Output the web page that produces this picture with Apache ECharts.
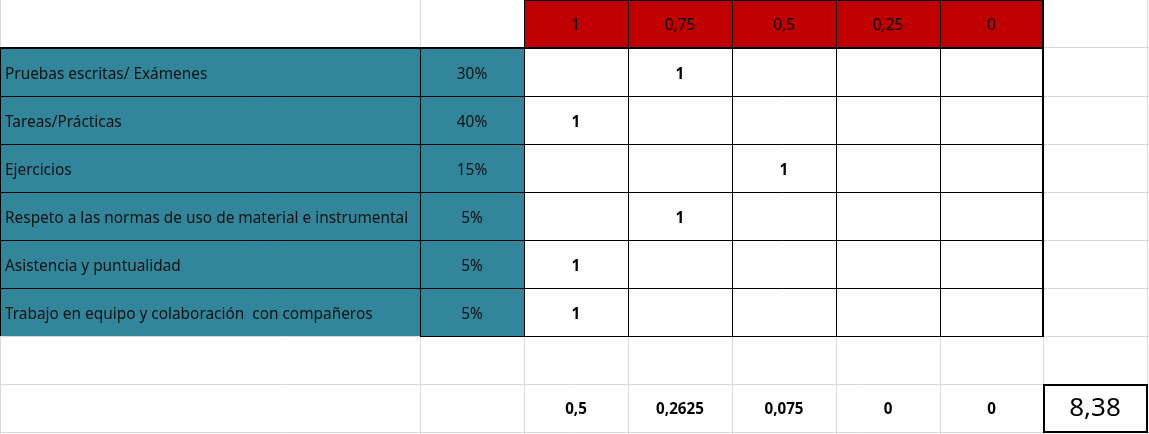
<!DOCTYPE html>
<html>
<head>
<meta charset="utf-8">
<script src="https://cdn.jsdelivr.net/npm/echarts@6/dist/echarts.min.js"></script>
<style>
html,body{margin:0;padding:0;background:#fff;}
#chart{width:1149px;height:434px;}
</style>
</head>
<body>
<div id="chart"></div>
<script>
// ---- data ----
const scoreLevels = ['1', '0,75', '0,5', '0,25', '0'];
const criteria = [
  'Pruebas escritas/ Exámenes',
  'Tareas/Prácticas',
  'Ejercicios',
  'Respeto a las normas de uso de material e instrumental',
  'Asistencia y puntualidad',
  'Trabajo en equipo y colaboración  con compañeros'
];
const weights = ['30%', '40%', '15%', '5%', '5%', '5%'];
const selectedLevel = [1, 0, 2, 1, 0, 0];   // index into scoreLevels marked with "1"
const markValue = '1';
const columnTotals = ['0,5', '0,2625', '0,075', '0', '0'];
const finalGrade = '8,38';

// ---- layout (not data) ----
const colEdges = [0, 420, 524, 628, 732, 836, 940, 1043, 1147];
const rowEdges = [0, 47, 96, 144, 192, 240, 288, 336, 384, 432];
const FONT = "'Noto Sans', 'Open Sans', sans-serif";
const TEAL = '#31869b';
const RED = '#c00000';
const GRID_GRAY = '#d9d9d9';

// build cells
const cells = [];
scoreLevels.forEach((s, i) => cells.push({c: 2 + i, r: 0, text: s, fill: RED, align: 'center', weight: 'normal', size: 15.4, dy: 2.5}));
criteria.forEach((name, i) => {
  const r = i + 1;
  cells.push({c: 0, r, text: name, fill: TEAL, align: 'left', weight: 'normal', size: 15.4, dy: 3});
  cells.push({c: 1, r, text: weights[i], fill: TEAL, align: 'center', weight: 'normal', size: 15.4, dy: 3});
  scoreLevels.forEach((s, j) => cells.push({c: 2 + j, r, text: selectedLevel[i] === j ? markValue : '', fill: '#fff', align: 'center', weight: 'bold', size: 15.4, dy: 3}));
});
columnTotals.forEach((t, j) => cells.push({c: 2 + j, r: 8, text: t, fill: null, align: 'center', weight: 'bold', size: 15.2, dy: 2}));
cells.push({c: 7, r: 8, text: finalGrade, fill: null, align: 'center', weight: 'normal', size: 26, box: true, dy: 1});

// lines
const grayLines = [];
for (let r = 1; r < rowEdges.length; r++) grayLines.push([0, rowEdges[r] + 0.5, 1149, rowEdges[r] + 0.5]);
for (let c = 0; c < colEdges.length; c++) grayLines.push([colEdges[c] + 0.5, 0, colEdges[c] + 0.5, 434]);

const blackLines = [];
// top of header
blackLines.push([colEdges[2], 0.5, colEdges[7], 0.5, 1]);
// thick header bottom
blackLines.push([0, rowEdges[1] + 1, colEdges[7], rowEdges[1] + 1, 2]);
// row separators
for (let r = 2; r <= 6; r++) blackLines.push([0, rowEdges[r] + 0.5, colEdges[7], rowEdges[r] + 0.5, 1]);
// table bottom
blackLines.push([colEdges[1], rowEdges[7] + 0.5, colEdges[7], rowEdges[7] + 0.5, 1]);
// verticals
blackLines.push([0.5, rowEdges[1], 0.5, rowEdges[7], 1]);
blackLines.push([colEdges[1] + 0.5, rowEdges[1], colEdges[1] + 0.5, rowEdges[7] + 1, 1]);
for (let c = 2; c <= 6; c++) blackLines.push([colEdges[c] + 0.5, 0, colEdges[c] + 0.5, rowEdges[7] + 1, 1]);
blackLines.push([colEdges[7], 0, colEdges[7], rowEdges[7] + 1, 2]);

grayLines.forEach(l => { l[4] = 1; l.color = GRID_GRAY; });
blackLines.forEach(l => { l.color = '#000'; });

function lineRenderer(list) {
  return function (params, api) {
    const l = list[params.dataIndex];
    const a = api.coord([l[0], l[1]]);
    const b = api.coord([l[2], l[3]]);
    return {
      type: 'line',
      shape: {x1: a[0], y1: a[1], x2: b[0], y2: b[1]},
      style: {stroke: l.color, lineWidth: l[4] || 1}
    };
  };
}

function cellRenderer(params, api) {
  const d = cells[params.dataIndex];
  const p0 = api.coord([colEdges[d.c], rowEdges[d.r]]);
  const p1 = api.coord([colEdges[d.c + 1], rowEdges[d.r + 1]]);
  const children = [];
  if (d.fill) {
    children.push({type: 'rect', shape: {x: p0[0], y: p0[1], width: p1[0] - p0[0], height: p1[1] - p0[1]}, style: {fill: d.fill}});
  }
  if (d.box) {
    children.push({type: 'rect', shape: {x: p0[0] + 1, y: p0[1] + 1, width: p1[0] - p0[0] - 1, height: p1[1] - p0[1] - 1}, style: {fill: 'none', stroke: '#000', lineWidth: 2}, z2: 5});
  }
  if (d.text) {
    const x = d.align === 'left' ? p0[0] + 5 : (p0[0] + p1[0]) / 2;
    children.push({
      type: 'text',
      z2: 10,
      style: {
        x: x, y: (p0[1] + p1[1]) / 2 + d.dy,
        text: d.text,
        fill: d.fill === TEAL ? '#111' : '#000',
        font: d.weight + ' ' + d.size + 'px ' + FONT,
        align: d.align,
        verticalAlign: 'middle'
      }
    });
  }
  return {type: 'group', children};
}

const chart = echarts.init(document.getElementById('chart'), null, {renderer: 'canvas'});
chart.setOption({
  animation: false,
  grid: {left: 0, right: 0, top: 0, bottom: 0},
  xAxis: {type: 'value', min: 0, max: 1149, show: false},
  yAxis: {type: 'value', min: 0, max: 434, inverse: true, show: false},
  series: [
    {type: 'custom', z: 1, renderItem: lineRenderer(grayLines), data: grayLines.map((l, i) => [i, 0]), silent: true},
    {type: 'custom', z: 2, renderItem: cellRenderer, data: cells.map(d => [d.c, d.r]), silent: true},
    {type: 'custom', z: 3, renderItem: lineRenderer(blackLines), data: blackLines.map((l, i) => [i, 0]), silent: true}
  ]
});
</script>
</body>
</html>
